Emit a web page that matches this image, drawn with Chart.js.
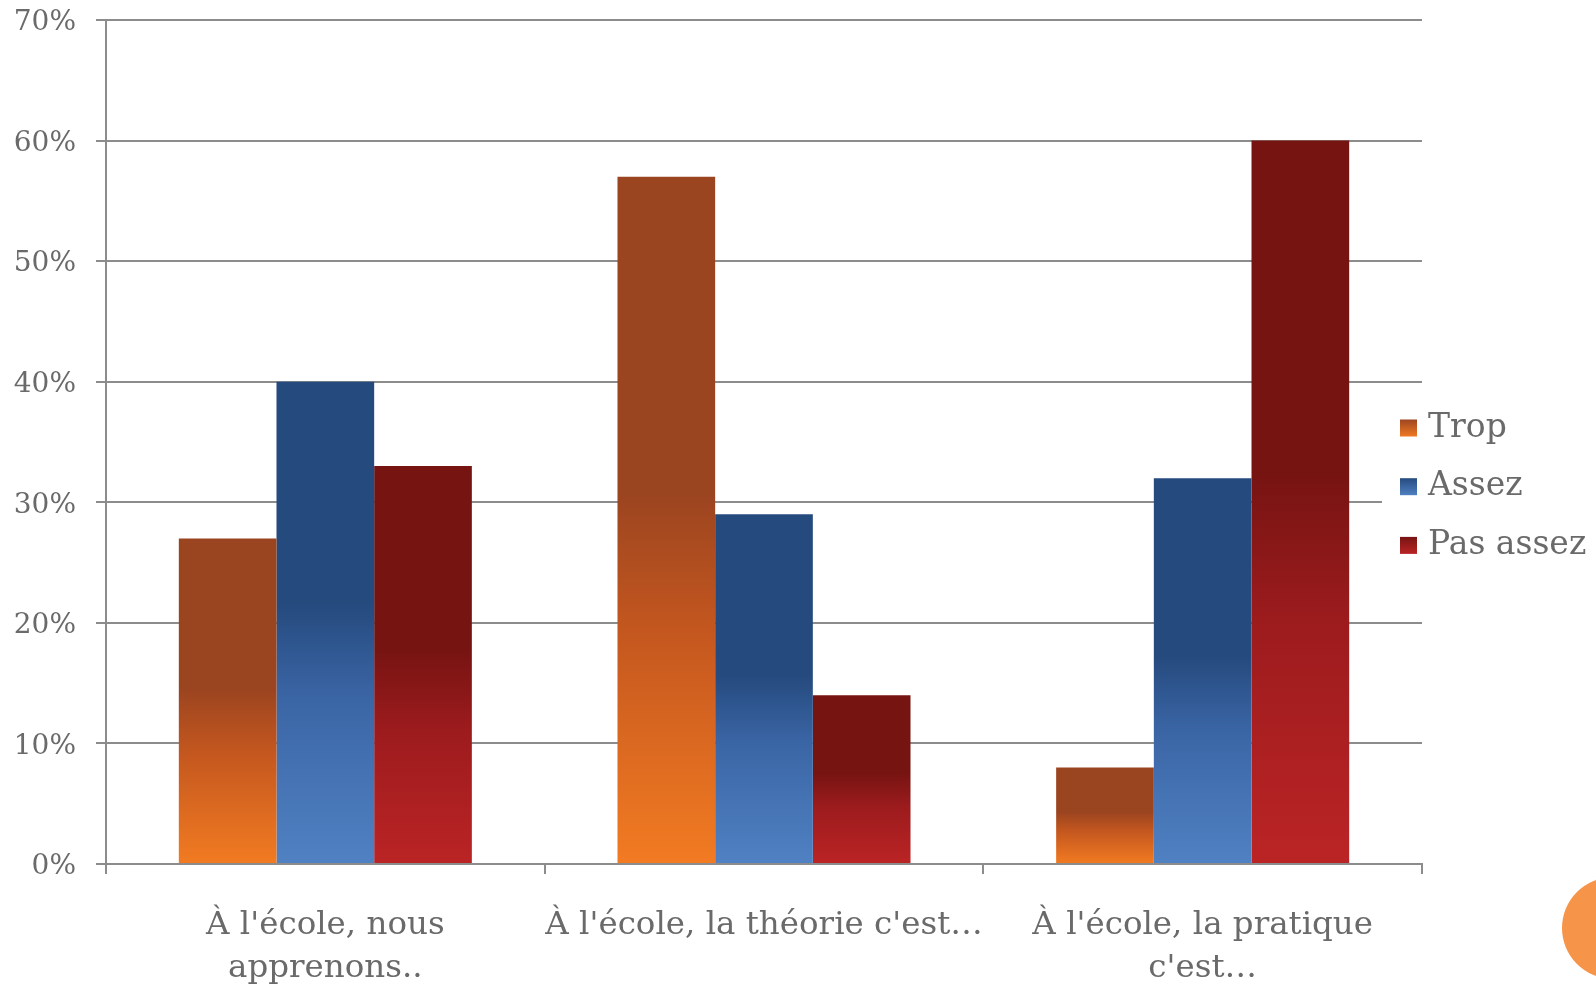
<!DOCTYPE html>
<html><head><meta charset="utf-8">
<script src="https://cdn.jsdelivr.net/npm/chart.js@4.4.1/dist/chart.umd.min.js"></script>
<style>
html,body{margin:0;padding:0;background:#fff;overflow:hidden}
#wrap{position:relative;width:1596px;height:986px}
#dot{position:absolute;left:1562px;top:877px;width:102px;height:102px;border-radius:50%;background:#f6954a}
</style></head><body>
<div id="wrap"><canvas id="c" width="1596" height="986"></canvas><div id="dot"></div></div>
<script>
const categories = [["À l'école, nous", "apprenons.."], "À l'école, la théorie c'est…", ["À l'école, la pratique", "c'est…"]];
const seriesNames = ["Trop", "Assez", "Pas assez"];
const trop = [27, 57, 8];
const assez = [40, 29, 32];
const pasAssez = [33, 14, 60];
const yMax = 70;
const yStep = 10;

const palettes = [
  {dark: '#9b4420', mid: '#c4571f', light: '#f27b22'},
  {dark: '#254a7e', mid: '#3b66a6', light: '#5081c2'},
  {dark: '#761412', mid: '#9c1b1d', light: '#bb2425'}
];
const TEXT = '#6a6a6a';
const GRID = '#8c8c8c';
const FONT = "'DejaVu Serif', serif";

function barGradient(i) {
  return function(ctx) {
    const chart = ctx.chart;
    const p = palettes[i];
    if (!chart.chartArea || ctx.raw == null) return p.mid;
    const ys = chart.scales.y;
    const top = ys.getPixelForValue(ctx.raw);
    const bottom = ys.getPixelForValue(0);
    const g = chart.ctx.createLinearGradient(0, top, 0, bottom);
    g.addColorStop(0, p.dark);
    g.addColorStop(0.46, p.dark);
    g.addColorStop(0.66, p.mid);
    g.addColorStop(1, p.light);
    return g;
  };
}

const legendPlugin = {
  id: 'sideLegend',
  afterDraw(chart) {
    const c = chart.ctx;
    c.save();
    c.fillStyle = '#ffffff';
    c.fillRect(1382, 395, 214, 172);
    chart.data.datasets.forEach((ds, i) => {
      const cy = 428 + i * 58.7;
      const p = palettes[i];
      const g = c.createLinearGradient(0, cy - 9, 0, cy + 9);
      g.addColorStop(0, p.dark);
      g.addColorStop(1, p.light);
      c.fillStyle = g;
      c.fillRect(1400, cy - 8.5, 17, 17);
      c.fillStyle = TEXT;
      c.font = "33px " + FONT;
      c.textBaseline = 'middle';
      c.textAlign = 'left';
      c.fillText(ds.label, 1428, cy);
    });
    c.restore();
  }
};

new Chart(document.getElementById('c'), {
  type: 'bar',
  data: {
    labels: categories,
    datasets: [
      {label: seriesNames[0], data: trop, backgroundColor: barGradient(0)},
      {label: seriesNames[1], data: assez, backgroundColor: barGradient(1)},
      {label: seriesNames[2], data: pasAssez, backgroundColor: barGradient(2)}
    ]
  },
  options: {
    responsive: false,
    devicePixelRatio: 1,
    animation: false,
    layout: {padding: {top: 20, right: 174, bottom: 0, left: 0}},
    datasets: {bar: {categoryPercentage: 0.668, barPercentage: 1.0, borderWidth: 0}},
    plugins: {legend: {display: false}, tooltip: {enabled: false}},
    scales: {
      x: {
        grid: {display: true, drawOnChartArea: false, drawTicks: true, tickLength: 10, color: GRID, lineWidth: 2, offset: true},
        border: {display: true, color: GRID, width: 2},
        ticks: {color: TEXT, font: {family: FONT, size: 32.5, lineHeight: 1.33}, padding: 30, maxRotation: 0, autoSkip: false},
        afterFit: s => { s.height = 122; }
      },
      y: {
        min: 0, max: yMax,
        grid: {color: GRID, lineWidth: 2, tickLength: 10, drawTicks: true},
        border: {display: true, color: GRID, width: 2},
        ticks: {stepSize: yStep, color: TEXT, font: {family: FONT, size: 28}, padding: 20, labelOffset: 3, callback: v => v + '%'},
        afterFit: s => { s.width = 106; s.paddingTop = 0; s.paddingBottom = 0; }
      }
    }
  },
  plugins: [legendPlugin]
});
</script>
</body></html>
